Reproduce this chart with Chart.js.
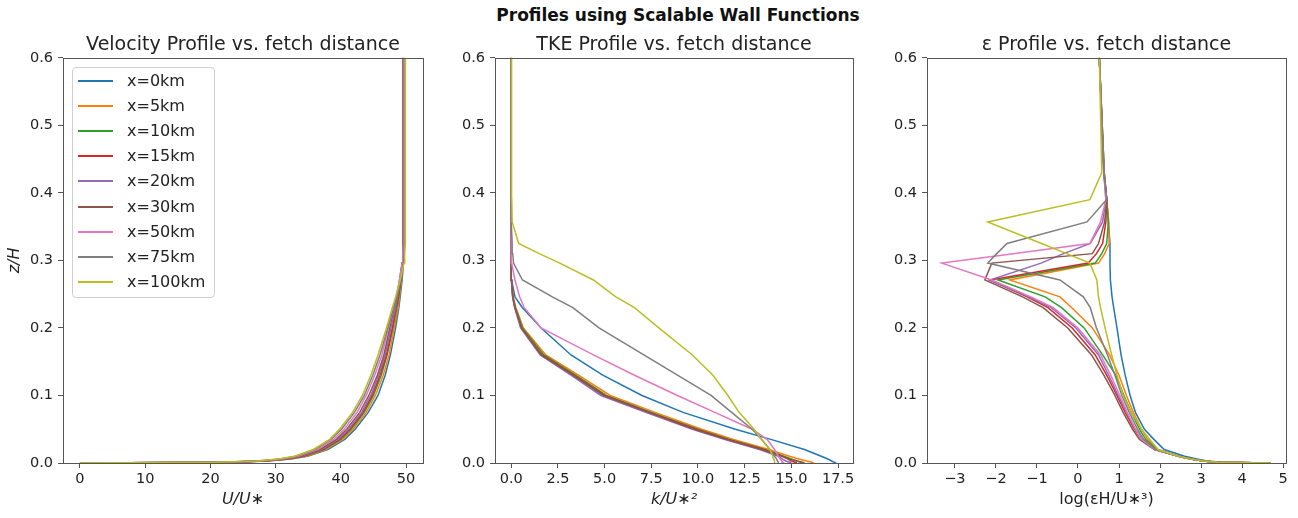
<!DOCTYPE html>
<html>
<head>
<meta charset="utf-8">
<script src="https://cdn.jsdelivr.net/npm/chart.js@4.4.0/dist/chart.umd.min.js"></script>
<style>
    body { margin: 0; background: #fff; width: 1298px; height: 518px; position: relative; overflow: hidden; font-family: 'DejaVu Sans', sans-serif; }
    canvas { position: absolute; top: 0; }
    #suptitle { position: absolute; left: 478px; width: 400px; top: 5px; text-align: center; font-size: 17px; font-weight: bold; color: #111; }
    #legend { position: absolute; left: 72px; top: 67px; width: 141px; height: 229px; border: 1px solid #d0d0d0; border-radius: 4px; background: rgba(255,255,255,0.85); }
    .legend-item { position: absolute; left: 0; height: 20px; font-size: 16px; color: #222; line-height: 20px; }
    .legend-item span.swatch { position: absolute; left: 5px; top: 9px; width: 35px; height: 2px; }
    .legend-item span.label { position: absolute; left: 54px; top: 0; white-space: nowrap; }
</style>
</head>
<body>
<div id="suptitle">Profiles using Scalable Wall Functions</div>
<canvas id="velocityChart" width="432" height="518" style="left:0px"></canvas>
<canvas id="tkeChart" width="432" height="518" style="left:432px"></canvas>
<canvas id="epsChart" width="434" height="518" style="left:864px"></canvas>
<div id="legend"></div>

<script>
// ============================================
// Data
// ============================================

const seriesNames = ['x=0km', 'x=5km', 'x=10km', 'x=15km', 'x=20km', 'x=30km', 'x=50km', 'x=75km', 'x=100km'];
const seriesColors = ['#1f77b4', '#ff7f0e', '#2ca02c', '#d62728', '#9467bd', '#8c564b', '#e377c2', '#7f7f7f', '#bcbd22'];

// z/H levels shared by every profile
const zLevels = [0, 0.001, 0.003, 0.006, 0.01, 0.02, 0.035, 0.05, 0.075, 0.1, 0.13, 0.16, 0.2, 0.23, 0.246, 0.271, 0.296, 0.31, 0.325, 0.357, 0.39, 0.43, 0.6];

// U/U* per fetch distance
const velocity0 = [0, 22.5, 28.8, 32.3, 34.9, 38.0, 40.6, 42.2, 44.2, 45.7, 46.8, 47.6, 48.4, 48.9, 49.1, 49.4, 49.6, 49.6, 49.6, 49.6, 49.6, 49.6, 49.6];
const velocity5 = [0, 22.4, 28.6, 32.1, 34.7, 37.7, 40.3, 41.9, 43.9, 45.3, 46.5, 47.4, 48.2, 48.8, 49.0, 49.3, 49.5, 49.5, 49.5, 49.5, 49.5, 49.5, 49.5];
const velocity10 = [0, 22.2, 28.4, 31.9, 34.4, 37.4, 40.0, 41.6, 43.6, 45.0, 46.2, 47.1, 48.0, 48.6, 48.9, 49.2, 49.5, 49.5, 49.5, 49.5, 49.5, 49.5, 49.5];
const velocity15 = [0, 22.1, 28.2, 31.7, 34.2, 37.2, 39.8, 41.4, 43.4, 44.8, 46.0, 47.0, 47.9, 48.5, 48.8, 49.2, 49.4, 49.5, 49.5, 49.5, 49.5, 49.5, 49.5];
const velocity20 = [0, 22.0, 28.0, 31.5, 34.0, 37.0, 39.6, 41.2, 43.2, 44.6, 45.8, 46.8, 47.7, 48.4, 48.7, 49.1, 49.4, 49.5, 49.5, 49.5, 49.5, 49.5, 49.5];
const velocity30 = [0, 21.8, 27.8, 31.3, 33.8, 36.8, 39.3, 40.9, 42.9, 44.3, 45.6, 46.6, 47.5, 48.2, 48.6, 49.0, 49.4, 49.5, 49.5, 49.5, 49.5, 49.5, 49.5];
const velocity50 = [0, 21.5, 27.5, 31.0, 33.4, 36.4, 38.9, 40.5, 42.5, 43.9, 45.2, 46.3, 47.3, 48.1, 48.5, 49.0, 49.4, 49.5, 49.6, 49.6, 49.6, 49.6, 49.6];
const velocity75 = [0, 21.2, 27.2, 30.7, 33.1, 36.0, 38.5, 40.1, 42.1, 43.6, 44.9, 46.0, 47.2, 48.1, 48.6, 49.2, 49.6, 49.7, 49.7, 49.7, 49.7, 49.7, 49.7];
const velocity100 = [0, 21.0, 27.0, 30.5, 32.9, 35.8, 38.3, 39.8, 41.8, 43.3, 44.6, 45.7, 47.0, 47.9, 48.4, 49.1, 49.7, 49.8, 49.9, 49.9, 49.9, 49.9, 49.9];

// k/U*^2 per fetch distance
const tke0 = [17.4, 17.3, 17.15, 16.95, 16.6, 15.7, 13.9, 12.0, 9.2, 7.0, 4.9, 3.2, 1.6, 0.6, 0.2, 0.02, 0, 0, 0, 0, 0, 0, 0];
const tke5 = [16.2, 16.1, 15.8, 15.4, 14.9, 13.8, 11.9, 10.2, 7.7, 5.3, 3.6, 1.85, 0.65, 0.25, 0.1, 0.02, 0, 0, 0, 0, 0, 0, 0];
const tke10 = [15.6, 15.5, 15.3, 15.0, 14.6, 13.6, 11.7, 10.0, 7.5, 5.1, 3.45, 1.75, 0.6, 0.22, 0.09, 0.01, 0, 0, 0, 0, 0, 0, 0];
const tke15 = [15.3, 15.2, 15.0, 14.8, 14.5, 13.5, 11.6, 9.9, 7.4, 5.0, 3.35, 1.65, 0.55, 0.2, 0.08, 0.01, 0, 0, 0, 0, 0, 0, 0];
const tke20 = [15.0, 14.9, 14.7, 14.5, 14.3, 13.3, 11.4, 9.7, 7.2, 4.8, 3.2, 1.55, 0.5, 0.18, 0.07, 0.01, 0, 0, 0, 0, 0, 0, 0];
const tke30 = [15.7, 15.6, 15.3, 14.9, 14.5, 13.4, 11.5, 9.8, 7.35, 4.95, 3.3, 1.6, 0.55, 0.2, 0.08, 0.02, 0, 0, 0, 0, 0, 0, 0];
const tke50 = [14.6, 14.55, 14.5, 14.4, 14.3, 14.1, 13.7, 12.9, 10.9, 8.9, 6.6, 4.4, 1.6, 0.7, 0.45, 0.2, 0.02, 0, 0, 0, 0, 0, 0];
const tke75 = [14.3, 14.3, 14.25, 14.2, 14.1, 13.85, 13.4, 12.9, 11.8, 10.7, 8.9, 7.1, 4.7, 3.3, 2.2, 0.6, 0.12, 0.08, 0.05, 0, 0, 0, 0];
const tke100 = [14.1, 14.1, 14.1, 14.05, 14.0, 13.85, 13.4, 13.0, 12.2, 11.6, 10.8, 9.7, 7.9, 6.6, 5.6, 4.4, 2.6, 1.5, 0.4, 0.05, 0.03, 0.02, 0.02];

// log(eps H / U*^3) per fetch distance
const eps0 = [4.7, 3.5, 3.15, 2.9, 2.6, 2.1, 1.85, 1.62, 1.4, 1.27, 1.15, 1.05, 0.95, 0.87, 0.83, 0.79, 0.78, 0.78, 0.78, 0.74, 0.7, 0.64, 0.52];
const eps5 = [4.7, 3.4, 3.05, 2.75, 2.45, 1.95, 1.7, 1.55, 1.35, 1.18, 1.0, 0.77, 0.35, -0.15, -0.44, -1.66, 0.5, 0.65, 0.76, 0.75, 0.7, 0.64, 0.52];
const eps10 = [4.7, 3.4, 3.05, 2.75, 2.45, 1.92, 1.65, 1.5, 1.3, 1.12, 0.92, 0.6, 0.15, -0.4, -0.8, -1.95, 0.42, 0.58, 0.7, 0.74, 0.7, 0.64, 0.52];
const eps15 = [4.7, 3.4, 3.05, 2.75, 2.45, 1.88, 1.55, 1.38, 1.15, 0.95, 0.7, 0.42, -0.14, -0.73, -1.24, -2.15, 0.25, 0.45, 0.6, 0.68, 0.7, 0.63, 0.52];
const eps20 = [4.7, 3.4, 3.05, 2.75, 2.45, 1.88, 1.57, 1.4, 1.18, 0.98, 0.75, 0.5, -0.05, -0.65, -1.2, -2.15, -0.9, -0.35, 0.3, 0.6, 0.68, 0.63, 0.52];
const eps30 = [4.7, 3.4, 3.05, 2.75, 2.45, 1.86, 1.5, 1.33, 1.1, 0.9, 0.63, 0.33, -0.25, -0.85, -1.35, -2.27, -2.1, 0.35, 0.5, 0.65, 0.7, 0.63, 0.52];
const eps50 = [4.7, 3.4, 3.05, 2.75, 2.45, 1.88, 1.55, 1.4, 1.2, 1.02, 0.8, 0.55, 0.0, -0.6, -1.15, -2.1, -3.32, -1.58, 0.29, 0.55, 0.68, 0.63, 0.52];
const eps75 = [4.7, 3.4, 3.05, 2.75, 2.45, 1.9, 1.6, 1.45, 1.25, 1.07, 0.9, 0.72, 0.45, 0.3, 0.13, -0.44, -2.2, -1.98, -1.73, 0.22, 0.7, 0.63, 0.52];
const eps100 = [4.7, 3.4, 3.05, 2.75, 2.45, 1.95, 1.75, 1.55, 1.3, 1.1, 0.95, 0.82, 0.66, 0.55, 0.5, 0.46, 0.29, -0.28, -0.89, -2.2, 0.29, 0.58, 0.52];

const velocityProfiles = [velocity0, velocity5, velocity10, velocity15, velocity20, velocity30, velocity50, velocity75, velocity100];
const tkeProfiles = [tke0, tke5, tke10, tke15, tke20, tke30, tke50, tke75, tke100];
const epsProfiles = [eps0, eps5, eps10, eps15, eps20, eps30, eps50, eps75, eps100];

// Tick values
const zTicks = [0, 0.1, 0.2, 0.3, 0.4, 0.5, 0.6];

// ============================================
// Chart setup
// ============================================

Chart.defaults.font.family = "'DejaVu Sans', sans-serif";
Chart.defaults.color = '#222';

const AXIS_COLOR = '#555';

// draws the full box around the plot area
const framePlugin = {
    id: 'frame',
    afterDatasetsDraw(chart) {
        const { ctx, chartArea } = chart;
        ctx.save();
        ctx.strokeStyle = AXIS_COLOR;
        ctx.lineWidth = 1;
        ctx.strokeRect(Math.round(chartArea.left) + 0.5, Math.round(chartArea.top) + 0.5,
            Math.round(chartArea.right - chartArea.left), Math.round(chartArea.bottom - chartArea.top));
        ctx.restore();
    }
};

function buildDatasets(profiles) {
    return profiles.map((values, i) => ({
        label: seriesNames[i],
        data: values.map((v, j) => ({ x: v, y: zLevels[j] })),
        borderColor: seriesColors[i],
        backgroundColor: seriesColors[i],
        borderWidth: 1.5,
        showLine: true,
        pointRadius: 0,
        tension: 0,
        order: profiles.length - i
    }));
}

function renderProfileChart(canvasId, profiles, opts) {
    const canvas = document.getElementById(canvasId);
    if (!canvas) return null;

    const ctx = canvas.getContext('2d');

    return new Chart(ctx, {
        type: 'scatter',
        data: { datasets: buildDatasets(profiles) },
        plugins: [framePlugin],
        options: {
            responsive: false,
            animation: false,
            layout: { padding: { left: 0, right: opts.padRight, top: 0, bottom: 0 } },
            plugins: {
                legend: { display: false },
                tooltip: { enabled: false },
                title: {
                    display: true,
                    text: opts.title,
                    fullSize: false,
                    font: { size: 19, weight: 'normal' },
                    color: '#222',
                    padding: { top: 34, bottom: 1 }
                }
            },
            scales: {
                x: {
                    type: 'linear',
                    min: opts.xMin,
                    max: opts.xMax,
                    afterFit: (scale) => { scale.height = 55; },
                    ticks: {
                        stepSize: opts.xStep,
                        includeBounds: false,
                        maxRotation: 0,
                        padding: 3,
                        font: { size: 14.5 },
                        callback: opts.xFormat
                    },
                    grid: { drawOnChartArea: false, drawTicks: true, tickLength: 5, color: AXIS_COLOR },
                    border: { display: false },
                    title: {
                        display: true,
                        text: opts.xTitle,
                        font: { size: 16, style: opts.xTitleStyle },
                        padding: { top: 0, bottom: 9 }
                    }
                },
                y: {
                    type: 'linear',
                    min: 0,
                    max: 0.6,
                    afterFit: (scale) => { scale.width = 63; },
                    afterBuildTicks: (scale) => { scale.ticks = zTicks.map(v => ({ value: v })); },
                    ticks: {
                        padding: 5,
                        font: { size: 14.5 },
                        callback: (v) => Number(v).toFixed(1)
                    },
                    grid: { drawOnChartArea: false, drawTicks: true, tickLength: 5, color: AXIS_COLOR },
                    border: { display: false },
                    title: {
                        display: !!opts.yTitle,
                        text: opts.yTitle || '',
                        font: { size: 16, style: 'italic' },
                        padding: { top: 5, bottom: 0 }
                    }
                }
            }
        }
    });
}

const minusFormat = (v) => (v < 0 ? '\u2212' + Math.abs(v) : String(v));

renderProfileChart('velocityChart', velocityProfiles, {
    title: 'Velocity Profile vs. fetch distance',
    xMin: -2.6, xMax: 52.6, xStep: 10,
    xFormat: minusFormat,
    xTitle: 'U/U\u2217', xTitleStyle: 'italic',
    yTitle: 'z/H',
    padRight: 9
});

renderProfileChart('tkeChart', tkeProfiles, {
    title: 'TKE Profile vs. fetch distance',
    xMin: -0.87, xMax: 18.3, xStep: 2.5,
    xFormat: (v) => Number(v).toFixed(1),
    xTitle: 'k/U\u2217\u00b2', xTitleStyle: 'italic',
    padRight: 11
});

renderProfileChart('epsChart', epsProfiles, {
    title: '\u03b5 Profile vs. fetch distance',
    xMin: -3.68, xMax: 5.07, xStep: 1,
    xFormat: minusFormat,
    xTitle: 'log(\u03b5H/U\u2217\u00b3)', xTitleStyle: 'normal',
    padRight: 12
});

// ============================================
// Legend (upper left of the velocity panel)
// ============================================

const legendBox = document.getElementById('legend');
seriesNames.forEach((name, i) => {
    const item = document.createElement('div');
    item.className = 'legend-item';
    item.style.top = (3 + i * 25.1) + 'px';
    item.innerHTML = '<span class="swatch" style="background:' + seriesColors[i] + '"></span>' +
        '<span class="label">' + name + '</span>';
    legendBox.appendChild(item);
});
</script>
</body>
</html>
